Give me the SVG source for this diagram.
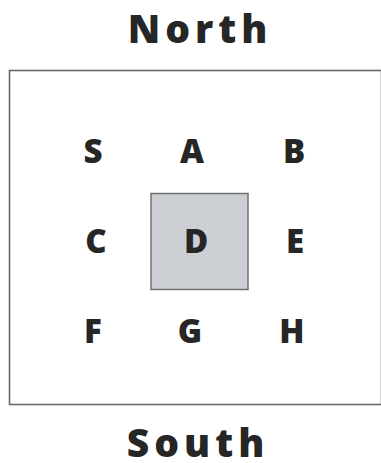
<svg xmlns="http://www.w3.org/2000/svg" width="381" height="463" viewBox="0 0 381 463">
<style>
.t{font-family:"Open Sans","DejaVu Sans",sans-serif;font-weight:800;fill:#262626;text-anchor:middle}
.l{font-size:33px}
.h{font-size:39px;letter-spacing:5px}
</style>
<rect x="0" y="0" width="381" height="463" fill="#fff"/>
<g id="frame"><rect x="9.5" y="70.5" width="372" height="334" fill="#fff" stroke="#6a6a6a" stroke-width="1.6"/></g>
<g id="north"><text class="t h" x="200" y="43">North</text></g>
<g id="south"><text class="t h" x="198" y="457">South</text></g>
<g id="nodeD"><rect x="151" y="193.5" width="97" height="96" fill="#ccd0d4" stroke="#707070" stroke-width="1.5"/><text class="t l" x="196" y="253">D</text></g>
<g id="nodeS"><text class="t l" x="93" y="163">S</text></g>
<g id="nodeA"><text class="t l" x="192" y="163">A</text></g>
<g id="nodeB"><text class="t l" x="294" y="163">B</text></g>
<g id="nodeC"><text class="t l" x="96" y="253">C</text></g>
<g id="nodeE"><text class="t l" x="295" y="253">E</text></g>
<g id="nodeF"><text class="t l" x="93" y="343">F</text></g>
<g id="nodeG"><text class="t l" x="190" y="343">G</text></g>
<g id="nodeH"><text class="t l" x="292" y="343">H</text></g>
<g id="connectors"></g>
</svg>
